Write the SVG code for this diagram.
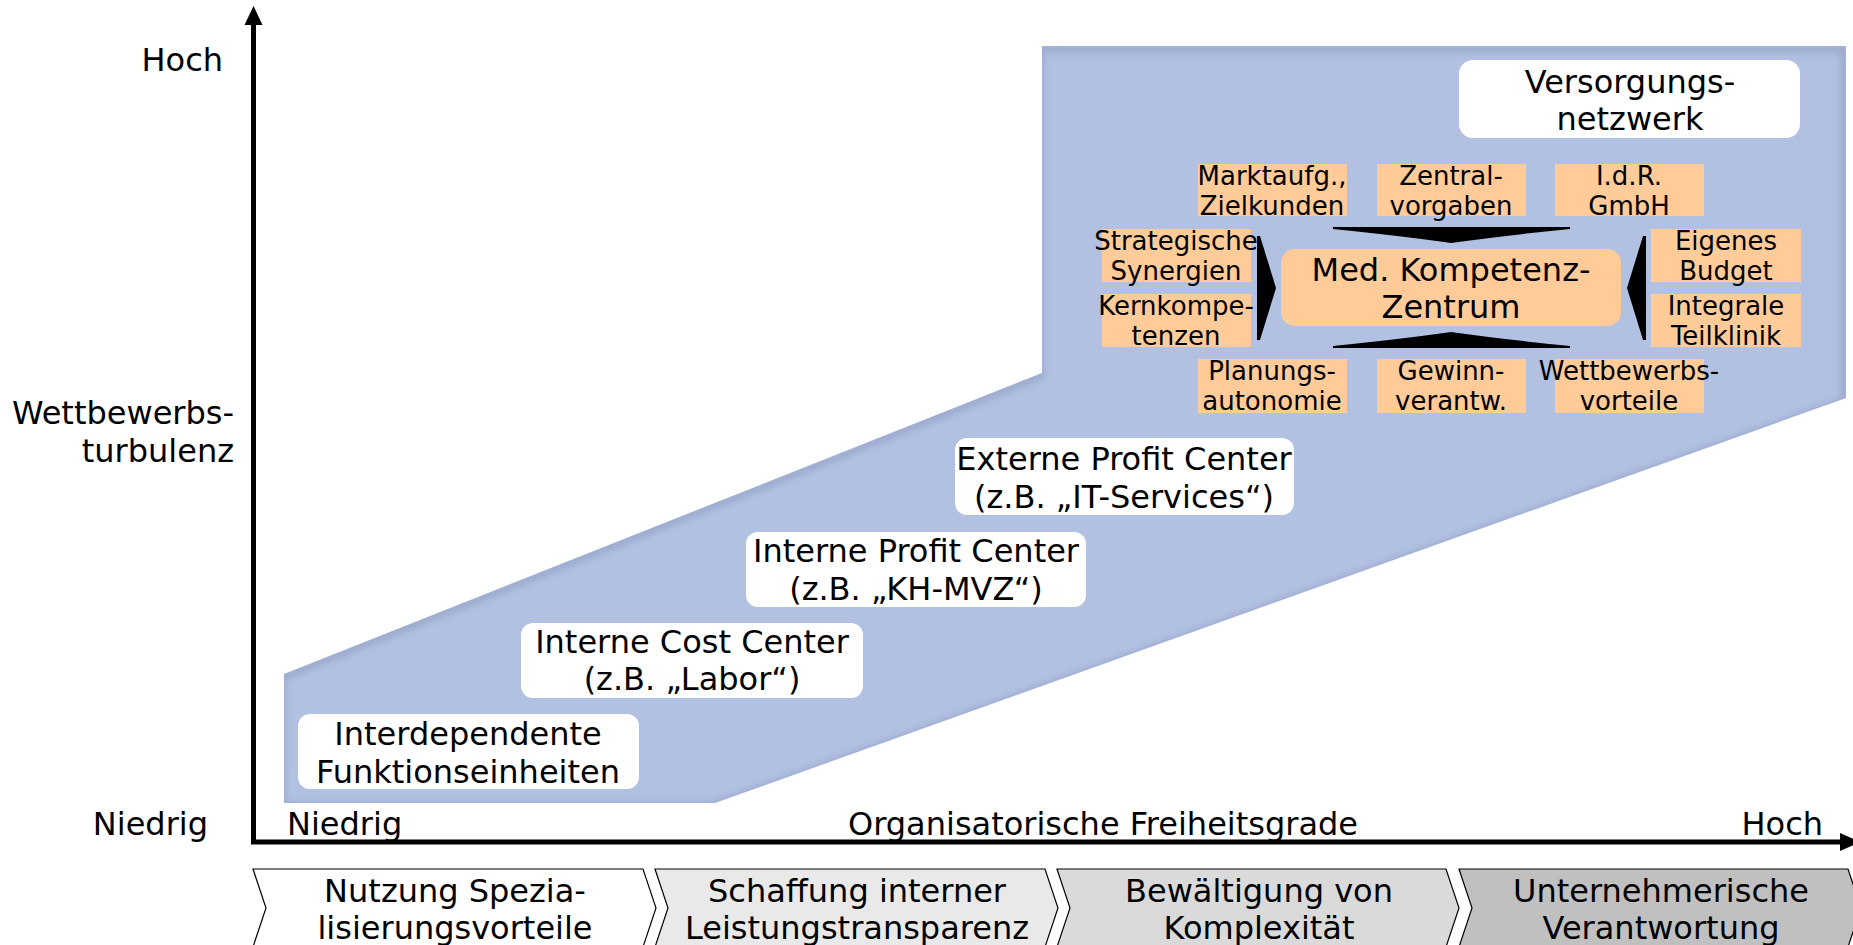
<svg xmlns="http://www.w3.org/2000/svg" width="1853" height="945" viewBox="0 0 1853 945">
  <defs>
    <style>
      text { font-family: "DejaVu Sans", Verdana, "Liberation Sans", sans-serif; fill: #000; }
      .lg { font-size: 32px; text-anchor: middle; }
      .sm { font-size: 26px; text-anchor: middle; }
      .ax { font-size: 32px; }
      .card { fill: #FFFFFF; }
      .tag { fill: #FFCB99; }
      .chev { stroke: #000; stroke-width: 1.2; }
      .wedge { fill: #000; }
    </style>
    <clipPath id="bandClip">
      <path d="M284,674 L1042,373 L1042,46 L1846,46 L1846,398 L715,803 L284,803 Z"/>
    </clipPath>
    <filter id="soft" x="-5%" y="-5%" width="110%" height="110%">
      <feGaussianBlur stdDeviation="3"/>
    </filter>
  </defs>

  <!-- development band -->
  <g id="band">
    <path d="M284,674 L1042,373 L1042,46 L1846,46 L1846,398 L715,803 L284,803 Z" fill="#B2C0E2"/>
    <g clip-path="url(#bandClip)">
      <path d="M284,674 L1042,373 L1042,46 L1846,46 L1846,398 L715,803 L284,803 Z" fill="none" stroke="#7D8BB3" stroke-width="7" opacity="0.45" filter="url(#soft)" transform="translate(-2,3)"/>
    </g>
  </g>

  <!-- axes -->
  <g id="axes">
    <path d="M253.5,22 V842 H1842" fill="none" stroke="#000" stroke-width="5" stroke-linejoin="miter"/>
    <polygon points="253.5,6 262.5,25 244.5,25" fill="#000"/>
    <polygon points="1860,842 1840,833 1840,851" fill="#000"/>
  </g>

  <!-- axis labels -->
  <g id="axis-labels">
    <text class="ax" x="223" y="71" text-anchor="end">Hoch</text>
    <text class="ax" x="234" y="424" text-anchor="end">Wettbewerbs-</text>
    <text class="ax" x="234" y="462" text-anchor="end">turbulenz</text>
    <text class="ax" x="208" y="835" text-anchor="end">Niedrig</text>
    <text class="ax" x="287" y="835">Niedrig</text>
    <text class="ax" x="1103" y="835" text-anchor="middle">Organisatorische Freiheitsgrade</text>
    <text class="ax" x="1823" y="835" text-anchor="end">Hoch</text>
  </g>

  <!-- stages along the band -->
  <g id="node-funktionseinheiten">
    <rect class="card" x="298" y="714" width="341" height="75" rx="12"/>
    <text class="lg" x="468" y="745">Interdependente</text>
    <text class="lg" x="468" y="783">Funktionseinheiten</text>
  </g>
  <g id="node-cost-center">
    <rect class="card" x="521" y="623" width="342" height="75" rx="12"/>
    <text class="lg" x="692" y="653">Interne Cost Center</text>
    <text class="lg" x="692" y="690">(z.B. „Labor“)</text>
  </g>
  <g id="node-interne-profit-center">
    <rect class="card" x="746" y="532" width="340" height="75" rx="12"/>
    <text class="lg" x="916" y="562">Interne Profit Center</text>
    <text class="lg" x="916" y="600">(z.B. „KH-MVZ“)</text>
  </g>
  <g id="node-externe-profit-center">
    <rect class="card" x="955" y="438" width="339" height="77" rx="12"/>
    <text class="lg" x="1124" y="470">Externe Profit Center</text>
    <text class="lg" x="1124" y="508">(z.B. „IT-Services“)</text>
  </g>
  <g id="node-versorgungsnetzwerk">
    <rect class="card" x="1459" y="60" width="341" height="78" rx="14"/>
    <text class="lg" x="1630" y="93">Versorgungs-</text>
    <text class="lg" x="1630" y="130">netzwerk</text>
  </g>

  <!-- competence centre with its attributes -->
  <g id="node-kompetenzzentrum">
    <rect class="tag" x="1281" y="249" width="340" height="77" rx="14"/>
    <text class="lg" x="1451" y="281">Med. Kompetenz-</text>
    <text class="lg" x="1451" y="318">Zentrum</text>
  </g>

  <g id="tag-marktaufg">
    <rect class="tag" x="1198" y="164" width="149" height="52"/>
    <text class="sm" x="1272" y="185">Marktaufg.,</text>
    <text class="sm" x="1272" y="215">Zielkunden</text>
  </g>
  <g id="tag-zentralvorgaben">
    <rect class="tag" x="1377" y="164" width="149" height="52"/>
    <text class="sm" x="1451" y="185">Zentral-</text>
    <text class="sm" x="1451" y="215">vorgaben</text>
  </g>
  <g id="tag-gmbh">
    <rect class="tag" x="1555" y="164" width="149" height="52"/>
    <text class="sm" x="1629" y="185">I.d.R.</text>
    <text class="sm" x="1629" y="215">GmbH</text>
  </g>
  <g id="tag-synergien">
    <rect class="tag" x="1102" y="229" width="149" height="53"/>
    <text class="sm" x="1176" y="250">Strategische</text>
    <text class="sm" x="1176" y="280">Synergien</text>
  </g>
  <g id="tag-kernkompetenzen">
    <rect class="tag" x="1102" y="294" width="149" height="53"/>
    <text class="sm" x="1176" y="315">Kernkompe-</text>
    <text class="sm" x="1176" y="345">tenzen</text>
  </g>
  <g id="tag-budget">
    <rect class="tag" x="1651" y="229" width="150" height="53"/>
    <text class="sm" x="1726" y="250">Eigenes</text>
    <text class="sm" x="1726" y="280">Budget</text>
  </g>
  <g id="tag-teilklinik">
    <rect class="tag" x="1651" y="294" width="150" height="53"/>
    <text class="sm" x="1726" y="315">Integrale</text>
    <text class="sm" x="1726" y="345">Teilklinik</text>
  </g>
  <g id="tag-planungsautonomie">
    <rect class="tag" x="1198" y="359" width="149" height="54"/>
    <text class="sm" x="1272" y="380">Planungs-</text>
    <text class="sm" x="1272" y="410">autonomie</text>
  </g>
  <g id="tag-gewinnverantwortung">
    <rect class="tag" x="1377" y="359" width="149" height="54"/>
    <text class="sm" x="1451" y="380">Gewinn-</text>
    <text class="sm" x="1451" y="410">verantw.</text>
  </g>
  <g id="tag-wettbewerbsvorteile">
    <rect class="tag" x="1555" y="359" width="149" height="54"/>
    <text class="sm" x="1629" y="380">Wettbewerbs-</text>
    <text class="sm" x="1629" y="410">vorteile</text>
  </g>

  <!-- wedges pointing at the competence centre -->
  <g id="connectors">
    <path class="wedge" d="M1333,227 L1570,227 L1570,229 Q1500,236 1451,243 Q1402,236 1333,229 Z"/>
    <path class="wedge" d="M1333,348 L1570,348 L1570,346 Q1500,339 1451,332 Q1402,339 1333,346 Z"/>
    <path class="wedge" d="M1257,236 L1260,236 Q1268,262 1276,288 Q1268,314 1260,340 L1257,340 Z"/>
    <path class="wedge" d="M1646,236 L1643,236 Q1635,262 1627,288 Q1635,314 1643,340 L1646,340 Z"/>
  </g>

  <!-- phases -->
  <g id="phase-1">
    <path class="chev" fill="#FFFFFF" d="M253,869 L643,869 L656,908 L643,947 L253,947 L266,908 Z"/>
    <text class="lg" x="455" y="902">Nutzung Spezia-</text>
    <text class="lg" x="455" y="939">lisierungsvorteile</text>
  </g>
  <g id="phase-2">
    <path class="chev" fill="#E9E9E9" d="M655,869 L1045,869 L1058,908 L1045,947 L655,947 L668,908 Z"/>
    <text class="lg" x="857" y="902">Schaffung interner</text>
    <text class="lg" x="857" y="939">Leistungstransparenz</text>
  </g>
  <g id="phase-3">
    <path class="chev" fill="#DADADA" d="M1057,869 L1446,869 L1459,908 L1446,947 L1057,947 L1070,908 Z"/>
    <text class="lg" x="1259" y="902">Bewältigung von</text>
    <text class="lg" x="1259" y="939">Komplexität</text>
  </g>
  <g id="phase-4">
    <path class="chev" fill="#C0C0C0" d="M1459,869 L1848,869 L1861,908 L1848,947 L1459,947 L1472,908 Z"/>
    <text class="lg" x="1661" y="902">Unternehmerische</text>
    <text class="lg" x="1661" y="939">Verantwortung</text>
  </g>
</svg>
